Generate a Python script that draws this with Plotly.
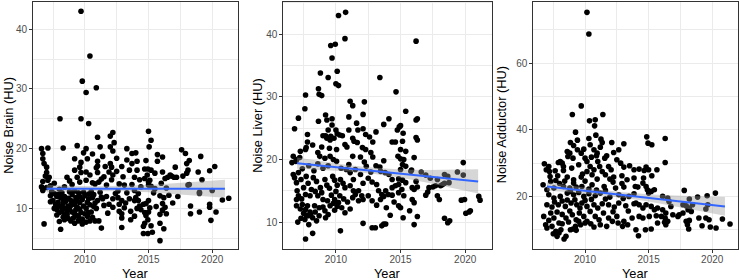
import plotly.graph_objects as go

# ---------------- data ----------------
brain_pts = [
 (2009.7,43.0),(2010.4,35.5),(2009.8,31.3),(2010.1,29.4),(2010.9,30.2),(2008.05,25.0),(2009.7,25.0),(2010.3,24.2),
 (2015.0,22.9),(2012.2,22.7),(2012.0,22.1),(2011.0,21.9),(2015.2,21.4),(2012.3,21.0),
 (2006.6,20.0),(2007.1,20.1),(2008.3,20.1),(2010.1,20.0),(2011.2,20.3),(2012.0,20.3),(2012.2,19.6),(2013.3,20.0),
 (2013.7,19.2),(2014.0,19.3),(2006.7,19.2),(2006.7,18.3),(2006.8,17.5),(2009.9,19.3),(2011.4,18.7),(2009.2,18.3),
 (2009.7,17.7),(2010.2,18.3),(2011.0,17.9),(2011.0,17.1),(2012.0,17.5),(2012.1,16.9),(2012.9,17.0),(2013.7,17.5),
 (2007.0,16.9),(2007.0,16.0),(2006.9,15.4),(2007.1,14.7),(2009.6,16.9),(2010.1,16.1),(2009.2,16.4),(2009.7,16.0),
 (2010.9,16.8),(2011.0,16.0),(2011.9,16.1),(2012.2,15.6),(2012.1,14.8),(2008.6,15.2),(2008.8,14.6),(2009.6,14.4),
 (2010.1,14.7),(2010.6,14.3),(2010.8,14.1),(2011.1,14.4),(2006.6,13.6),(2006.7,13.0),(2011.7,13.9),(2012.7,14.1),
 (2013.1,13.9),(2013.7,14.0),(2007.2,15.2),(2007.0,13.5),(2006.7,14.5),(2007.3,13.8),
 (2007.3,12.1),(2007.5,11.3),(2007.8,12.0),(2008.1,11.8),(2008.4,12.0),(2007.3,11.1),(2007.7,10.7),(2008.0,10.4),
 (2008.3,10.8),(2008.7,10.4),(2009.0,12.3),(2009.3,11.8),(2009.6,12.0),(2010.0,12.1),(2010.3,12.4),(2008.9,11.3),
 (2009.2,10.7),(2009.6,11.0),(2009.9,10.4),(2010.2,11.0),(2010.6,11.8),(2011.0,11.3),(2011.4,11.6),(2011.7,12.0),
 (2012.2,11.6),(2012.6,11.8),(2012.9,11.3),(2013.5,11.6),(2013.9,11.3),
 (2007.8,9.8),(2008.2,9.5),(2008.5,10.0),(2009.0,9.4),(2009.3,9.8),(2009.7,9.3),(2010.1,10.0),(2010.5,9.4),
 (2010.9,10.0),(2007.8,8.9),(2008.3,8.5),(2008.6,8.9),(2009.1,8.4),(2009.4,8.8),(2009.8,8.2),(2010.2,8.7),
 (2008.0,7.8),(2008.4,8.1),(2010.4,7.9),(2010.8,7.9),(2011.1,7.9),(2012.9,8.4),(2012.9,6.8),(2013.6,8.1),
 (2006.8,7.4),(2008.1,6.5),(2011.3,6.7),(2011.9,10.7),(2012.2,10.2),(2012.7,10.7),(2013.1,10.1),(2012.7,9.5),
 (2012.9,9.1),(2009.8,7.4),(2010.1,7.7),(2009.2,7.5),
 (2007.6,12.5),(2008.2,12.6),(2008.8,12.8),(2009.5,12.6),(2010.5,12.8),(2007.9,11.0),(2008.5,11.2),(2009.1,11.1),
 (2009.8,11.5),(2010.4,10.6),(2010.8,10.9),(2008.6,9.2),(2009.5,8.6),(2010.0,9.1),(2007.6,10.0),(2008.9,7.9),
 (2011.2,12.7),(2011.5,10.5),(2011.8,9.2),(2012.4,12.5),(2013.3,12.6),
 (2011.5,15.3),(2012.5,16.2),(2013.0,15.3),(2013.5,16.4),(2013.9,15.2),(2014.3,14.8),
 (2007.4,12.8),(2007.9,12.3),(2008.3,11.4),(2008.7,11.7),(2009.2,12.9),(2009.4,11.3),(2009.9,12.7),(2010.3,11.6),
 (2010.7,12.3),(2011.3,11.9),(2008.0,9.3),(2008.4,9.0),(2008.8,9.8),(2009.2,9.1),(2009.6,9.9),(2010.3,9.3),
 (2010.7,10.3),(2008.2,10.1),(2008.9,10.5),(2009.4,10.2),(2009.5,7.9),(2008.7,8.3),(2010.6,8.5),(2009.0,14.0),
 (2009.4,15.2),(2008.4,13.6),(2010.4,15.6),(2011.3,14.9),(2007.6,14.2),(2008.0,13.2),(2011.6,17.0),(2012.5,18.4),
 (2013.3,18.1),(2010.6,19.1),(2009.4,20.5),(2012.6,12.9),(2013.2,10.9),(2013.6,9.5),(2014.2,12.5),(2015.4,12.6),
 (2015.6,10.3),(2016.6,12.2),(2017.3,12.0),(2015.5,15.9),(2016.0,14.2),
 (2015.05,20.3),(2014.1,17.9),(2014.1,16.4),(2014.8,18.0),(2014.7,16.6),(2014.95,16.6),(2015.2,16.4),(2014.9,15.6),
 (2015.1,14.7),(2014.7,15.0),(2015.7,19.0),(2016.1,18.6),(2015.7,17.9),(2016.1,16.1),(2016.3,15.0),(2016.5,15.2),
 (2016.7,15.6),(2016.8,15.4),(2017.1,16.9),(2017.0,15.2),(2017.2,15.2),(2017.6,19.8),(2017.9,19.2),(2018.2,18.0),
 (2018.0,17.5),(2018.1,16.4),(2018.0,15.9),(2017.7,15.4),(2018.1,13.9),(2019.1,18.7),(2018.9,16.1),(2019.2,14.8),
 (2020.2,17.0),(2019.8,16.3),(2019.0,12.5),(2018.3,10.4),(2018.3,9.1),(2019.0,9.4),(2019.8,10.7),(2019.8,10.2),
 (2020.3,9.4),(2019.9,8.0),(2020.8,11.4),(2021.3,11.7),(2016.4,13.4),(2016.9,10.9),(2013.9,13.0),(2014.0,11.8),
 (2014.2,11.3),(2014.3,10.4),(2014.4,9.8),(2014.6,10.7),(2014.1,10.0),(2013.9,8.7),(2014.7,9.3),(2014.8,8.8),
 (2014.95,8.1),(2014.7,7.5),(2014.6,7.0),(2015.2,7.1),(2014.95,5.8),(2014.6,5.8),(2015.3,6.0),(2015.9,9.0),
 (2015.9,7.5),(2016.2,6.6),(2015.9,4.6),(2015.9,12.1),(2016.2,11.8),(2016.1,10.8),(2016.3,10.2),(2016.4,9.1),
 (2016.1,9.7),(2015.0,11.3),(2015.1,10.1),(2015.0,9.4),(2014.8,10.8),(2014.4,13.6),(2015.0,13.9),(2015.2,13.7),
 (2015.5,13.3),(2015.0,14.4),(2018.2,14.0),(2019.0,12.7),(2020.0,13.0),
]

liver_pts = [
 (2010.2,43.0),(2010.75,43.5),(2010.7,39.3),(2009.6,38.2),(2009.95,38.4),(2009.7,36.2),(2016.2,38.9),(2008.8,33.8),
 (2009.4,33.1),(2010.1,34.1),(2010.0,32.1),(2010.2,31.8),(2008.65,31.3),(2008.7,30.4),(2008.9,30.2),(2007.65,30.3),
 (2013.4,33.1),(2014.65,30.8),(2011.1,29.3),(2011.3,28.6),(2012.2,29.2),(2007.6,28.1),(2007.1,26.6),(2006.8,24.9),
 (2007.8,24.0),(2008.65,26.1),(2009.2,27.1),(2009.3,26.3),(2009.7,26.5),(2009.7,25.5),(2009.4,24.7),(2011.0,26.8),
 (2012.1,27.2),(2012.1,24.9),(2011.7,24.7),(2011.0,24.7),(2010.0,24.7),(2010.1,24.1),(2012.3,24.0),(2013.7,25.6),
 (2014.1,26.5),(2014.75,24.7),(2015.0,25.4),(2014.9,25.2),(2015.4,27.7),(2016.2,26.3),(2016.3,26.5),(2015.2,24.2),
 (2016.2,23.5),(2009.0,23.8),(2009.2,23.8),(2009.6,23.7),(2010.3,23.9),(2010.5,23.8),(2011.3,23.4),
 (2009.85,23.4),(2011.4,22.9),(2011.65,22.7),(2012.05,21.9),(2012.3,21.6),(2012.7,21.1),(2012.85,22.8),(2010.7,22.4),
 (2010.85,22.0),(2009.3,23.4),(2009.55,23.1),(2007.8,22.8),(2007.7,21.9),(2007.65,21.6),(2007.25,21.3),(2010.05,21.6),
 (2008.6,21.1),(2008.75,20.5),(2009.15,20.2),(2009.55,20.5),(2009.8,20.0),(2010.05,19.7),(2011.3,20.5),(2011.9,20.4),
 (2012.2,19.6),(2012.85,20.4),(2013.4,18.8),(2013.7,19.8),(2006.7,20.5),(2006.95,20.0),(2007.2,20.3),(2006.6,19.5),
 (2006.9,19.7),(2006.7,17.6),(2006.8,17.1),(2007.1,17.9),(2007.3,16.8),(2007.7,17.3),(2006.95,16.3),(2007.85,16.2),
 (2008.25,17.1),(2008.5,16.5),(2008.8,15.5),(2009.15,16.8),(2009.3,15.9),(2009.75,17.3),(2009.9,16.7),(2010.1,15.9),
 (2010.35,16.8),(2010.55,16.2),(2010.7,15.5),(2011.1,15.8),(2011.35,15.0),(2011.5,14.4),(2011.75,15.0),(2012.0,14.2),
 (2007.0,15.0),(2007.1,14.2),(2006.95,13.6),(2007.35,13.7),(2007.65,14.4),(2008.0,14.2),(2008.6,14.2),(2009.0,13.6),
 (2009.35,13.4),(2009.65,14.3),(2009.9,13.6),(2010.3,14.2),(2006.95,12.6),(2007.25,12.1),(2007.65,12.0),(2008.0,11.6),
 (2008.35,12.6),(2008.7,12.3),(2009.15,11.8),(2009.55,12.6),(2009.8,13.0),(2010.2,13.1),(2010.45,12.3),(2010.7,11.5),
 (2007.5,11.4),(2007.7,11.1),(2007.85,11.0),(2008.05,11.2),(2008.2,10.7),(2007.05,10.0),(2007.9,9.6),(2008.7,11.0),
 (2008.2,8.2),(2007.65,7.3),(2010.35,8.6),(2012.1,9.8),(2012.8,9.1),(2013.05,9.1),(2013.55,9.4),(2013.7,9.7),
 (2011.3,13.9),(2011.75,13.4),(2012.1,13.6),(2012.5,14.2),(2012.8,13.4),(2013.15,12.7),(2013.45,13.6),(2013.7,14.1),
 (2013.3,15.0),(2013.55,14.4),(2010.8,18.4),(2011.1,17.9),(2011.5,18.4),(2011.9,17.6),(2012.35,18.9),(2012.7,18.0),
 (2013.45,18.1),(2013.8,17.9),(2011.35,16.8),(2012.1,16.2),(2012.8,16.4),(2013.15,16.0),
 (2007.4,18.5),(2007.9,19.0),(2008.3,18.2),(2008.6,19.3),(2009.0,18.6),(2009.4,19.0),(2010.4,18.6),(2007.5,15.5),
 (2008.1,15.2),(2008.4,14.9),(2008.9,14.7),(2009.5,15.4),(2010.0,14.9),(2010.6,13.7),(2007.4,12.8),(2007.8,12.6),
 (2008.4,11.6),(2009.0,12.4),(2009.4,11.2),(2009.9,11.9),(2010.1,12.5),(2010.9,13.2),(2011.1,12.1),(2007.3,10.6),
 (2007.6,10.4),(2008.5,10.2),(2009.2,10.7),(2011.0,19.2),(2012.5,17.0),(2013.1,19.0),(2008.2,22.3),(2008.9,22.0),
 (2009.5,21.8),(2012.6,23.6),(2013.1,24.4),(2011.6,25.8),(2013.9,12.3),(2014.5,13.2),(2016.6,18.0),(2017.3,17.0),
 (2016.3,23.1),(2014.35,22.8),(2014.6,22.8),(2015.15,22.9),(2015.0,21.6),(2015.4,21.3),(2014.8,20.5),(2015.0,20.1),
 (2015.25,20.0),(2016.05,20.3),(2015.15,19.2),(2015.4,18.9),(2015.0,18.4),(2015.8,18.1),(2015.85,18.3),(2019.85,19.5),
 (2019.4,18.0),(2019.85,17.5),(2014.1,17.6),(2014.35,16.8),(2014.85,16.9),(2015.15,16.7),(2015.4,16.3),(2016.95,17.5),
 (2017.85,16.8),(2018.4,17.6),(2018.65,17.3),(2018.75,16.3),(2018.4,16.2),(2016.2,16.5),(2015.9,15.5),(2016.05,15.2),
 (2016.3,15.6),(2017.2,15.5),(2017.5,15.6),(2017.7,15.8),(2017.1,14.8),(2016.95,14.3),(2017.85,14.2),(2018.0,13.6),
 (2018.1,15.8),(2018.25,16.0),(2014.35,15.5),(2014.6,15.8),(2014.85,16.0),(2013.85,15.0),(2014.05,14.4),(2014.35,14.3),
 (2014.85,14.7),(2015.1,15.2),(2015.25,14.2),(2015.9,13.6),(2016.05,13.1),(2014.85,12.6),(2015.0,12.3),(2014.2,11.1),
 (2015.2,10.7),(2015.7,11.8),(2016.3,10.9),(2016.05,9.6),(2019.7,13.5),(2019.95,13.6),(2020.05,11.4),(2020.3,11.6),
 (2020.4,11.8),(2021.05,14.1),(2021.15,13.5),(2018.4,10.6),(2018.65,9.9),(2018.8,10.2),(2013.85,9.7),
]

adductor_pts = [
 (2010.15,75.3),(2010.3,68.8),(2009.7,47.2),(2009.0,44.6),(2011.4,44.6),(2010.35,42.7),(2010.8,43.0),(2010.75,41.2),
 (2009.25,39.3),(2010.85,38.4),(2014.85,37.9),(2016.3,37.4),(2010.3,37.4),(2011.25,37.2),(2009.4,36.9),
 (2008.85,36.2),(2009.1,35.3),(2008.8,33.0),(2010.4,35.5),(2010.7,34.0),(2010.95,33.0),(2011.35,36.2),(2011.2,34.8),
 (2012.1,36.2),(2013.05,35.8),(2012.65,34.0),(2012.25,33.2),(2008.6,33.5),(2008.65,32.0),(2009.05,31.5),(2009.4,34.0),
 (2009.7,33.0),(2009.9,34.2),(2010.0,31.5),(2010.15,30.5),(2010.9,32.2),(2011.55,31.5),(2011.7,32.2),
 (2006.8,29.8),(2007.15,29.0),(2007.9,30.2),(2008.05,30.5),(2008.2,30.0),(2006.95,28.0),(2008.95,28.5),(2009.5,29.5),
 (2010.4,29.0),(2010.7,28.0),(2011.15,29.0),(2011.35,27.5),(2011.85,29.0),(2012.05,28.0),(2012.8,30.0),(2013.05,28.8),
 (2013.5,29.2),(2013.85,28.0),(2007.2,27.5),(2007.65,27.7),(2008.3,27.8),(2007.25,26.0),(2007.85,26.2),(2008.6,25.8),
 (2009.1,25.0),(2009.7,25.8),(2010.15,27.5),(2010.55,26.5),(2010.95,25.2),(2011.6,26.5),(2011.95,25.2),(2012.25,25.8),
 (2012.9,26.2),(2013.3,25.0),(2013.85,25.5),(2006.7,23.5),(2007.0,22.0),(2007.55,22.5),(2008.3,23.0),(2009.1,24.0),
 (2009.75,23.0),(2010.55,23.5),(2011.5,23.0),(2012.4,22.5),(2013.05,22.8),(2013.95,23.0),
 (2007.15,20.5),(2007.55,19.5),(2008.05,20.0),(2008.6,21.0),(2008.85,21.5),(2009.1,20.5),(2009.5,21.2),(2009.9,20.0),
 (2010.3,20.8),(2010.8,20.2),(2011.2,21.0),(2011.95,19.8),(2012.65,20.5),(2013.45,20.0),(2013.85,20.8),
 (2007.0,17.5),(2007.4,16.8),(2007.9,17.5),(2008.45,17.0),(2008.9,18.0),(2009.35,17.5),(2009.75,18.0),(2010.15,17.0),
 (2010.7,17.5),(2011.35,17.8),(2011.85,17.5),(2012.65,18.0),(2013.2,17.2),(2013.85,17.8),
 (2006.75,14.0),(2007.15,12.8),(2007.55,13.5),(2007.95,12.0),(2008.5,13.5),(2009.0,14.5),(2009.55,15.0),(2009.9,14.0),
 (2010.15,12.5),(2010.8,14.0),(2011.45,15.0),(2011.85,13.5),(2012.5,14.0),(2013.05,12.5),(2013.7,13.5),
 (2006.9,11.5),(2007.0,10.5),(2007.4,11.0),(2007.7,9.5),(2007.95,9.0),(2008.1,10.0),(2008.5,8.0),(2008.85,10.0),
 (2009.25,11.0),(2009.65,11.5),(2010.0,12.0),(2010.45,11.8),(2011.2,11.5),(2012.15,12.5),(2012.95,11.0),(2013.35,11.5),
 (2007.5,8.8),(2007.8,8.0),(2008.35,7.2),(2009.05,10.2),(2009.3,9.8),
 (2007.3,24.5),(2007.7,24.8),(2008.0,23.9),(2008.4,24.6),(2008.8,22.5),(2009.3,22.8),(2010.0,24.6),(2010.3,22.2),
 (2010.9,21.9),(2011.6,21.8),(2012.2,24.3),(2012.9,23.9),(2007.6,18.3),(2008.2,18.6),(2008.6,18.9),(2009.2,19.0),
 (2009.6,16.5),(2010.0,18.8),(2010.5,19.1),(2011.0,16.5),(2011.6,19.2),(2012.3,16.8),(2013.0,19.4),(2007.3,15.0),
 (2007.8,15.3),(2008.2,14.6),(2008.8,15.6),(2009.3,13.0),(2010.4,15.5),(2011.1,13.0),(2012.2,15.4),(2013.4,15.6),
 (2008.2,11.8),(2008.7,12.3),(2009.5,12.5),(2010.7,10.8),(2011.7,11.0),(2012.6,12.0),(2009.8,26.7),(2010.5,31.8),
 (2012.5,31.0),(2008.3,29.0),(2011.0,30.5),
 (2014.95,36.0),(2015.25,35.5),(2016.3,30.2),(2014.25,28.2),(2014.65,27.8),(2014.8,28.8),(2015.0,28.0),(2015.25,26.2),
 (2015.65,28.0),(2014.6,25.5),(2014.55,24.0),(2014.15,22.8),(2014.8,23.0),(2014.9,22.0),(2015.0,21.0),(2015.2,21.5),
 (2015.45,22.0),(2017.8,21.8),(2019.6,20.2),(2020.25,21.0),(2018.2,19.2),(2018.85,19.8),(2019.65,17.5),(2019.5,16.2),
 (2016.1,20.0),(2016.5,19.5),(2016.6,18.5),(2017.7,17.5),(2017.95,17.2),(2018.2,16.5),(2018.45,17.5),(2014.0,18.0),
 (2014.25,17.5),(2014.55,16.5),(2014.8,17.5),(2015.2,17.0),(2015.45,16.0),(2015.7,16.5),(2016.1,16.0),(2016.35,15.0),
 (2016.75,17.0),(2016.9,14.5),(2017.3,14.0),(2017.4,14.5),(2017.7,15.0),(2018.1,16.0),(2018.35,15.5),(2014.25,14.0),
 (2014.55,13.5),(2015.05,14.0),(2015.6,14.2),(2016.0,14.0),(2016.3,13.5),(2016.5,12.5),(2017.95,12.5),(2018.2,12.8),
 (2018.05,11.5),(2018.95,13.5),(2019.5,13.5),(2019.75,13.0),(2020.8,13.2),(2014.0,10.0),(2014.2,8.2),(2014.75,10.0),
 (2015.2,10.2),(2015.7,12.0),(2016.25,12.2),(2016.35,11.5),(2018.15,10.2),(2019.2,11.2),(2019.85,10.8),(2020.3,10.5),
 (2021.4,11.7),
]

# fitted linear trend
fit_x = [2007.0, 2021.0]
brain_fit = [13.3, 13.3]
liver_fit = [19.4, 16.5]
adductor_fit = [23.0, 17.0]

# confidence band
band_x = [2007, 2009, 2011, 2013, 2015, 2017, 2019, 2021]
brain_upper = [13.95, 13.75, 13.7, 13.75, 13.9, 14.2, 14.5, 14.8]
brain_lower = [12.65, 12.85, 12.9, 12.85, 12.7, 12.4, 12.1, 11.8]
liver_upper = [20.3, 19.64, 19.07, 18.66, 18.39, 18.33, 18.36, 18.45]
liver_lower = [18.5, 18.34, 18.07, 17.66, 17.09, 16.33, 15.46, 14.55]
adductor_upper = [24.25, 23.09, 22.09, 21.28, 20.67, 20.31, 20.06, 19.8]
adductor_lower = [21.75, 21.19, 20.49, 19.58, 18.47, 17.11, 15.66, 14.2]

y_titles = ["Noise Brain (HU)", "Noise Liver (HU)", "Noise Adductor (HU)"]
x_title = "Year"
x_ticks = [2010, 2015, 2020]

# ---------------- figure ----------------
W, H = 739, 280
FONT = "Liberation Sans, Arial, sans-serif"

panels = [
    dict(pts=brain_pts, fit=brain_fit, up=brain_upper, lo=brain_lower,
         dom=[33.0, 238.3], yr=[3.2, 44.6], ydt=10, ymin=5, tx=8.5),
    dict(pts=liver_pts, fit=liver_fit, up=liver_upper, lo=liver_lower,
         dom=[283.3, 491.7], yr=[5.7, 45.2], ydt=10, ymin=5, tx=257.5),
    dict(pts=adductor_pts, fit=adductor_fit, up=adductor_upper, lo=adductor_lower,
         dom=[533.3, 738.3], yr=[4.2, 78.5], ydt=20, ymin=10, tx=501.0),
]

fig = go.Figure()
ydom = [1 - 249 / H, 1 - 1.7 / H]
grid = "#EBEBEB"
annotations = []

for i, p in enumerate(panels):
    sfx = "" if i == 0 else str(i + 1)
    xa, ya = "x" + sfx, "y" + sfx
    xs = [a for a, b in p["pts"]]
    ys = [b for a, b in p["pts"]]
    fig.add_trace(go.Scatter(x=xs, y=ys, mode="markers", xaxis=xa, yaxis=ya,
                             marker=dict(color="black", size=5.6, line=dict(width=0)),
                             showlegend=False, hoverinfo="skip"))
    fig.add_trace(go.Scatter(x=band_x + band_x[::-1], y=p["up"] + p["lo"][::-1],
                             mode="lines", fill="toself", fillcolor="rgba(153,153,153,0.4)",
                             line=dict(width=0), xaxis=xa, yaxis=ya, showlegend=False,
                             hoverinfo="skip"))
    fig.add_trace(go.Scatter(x=fit_x, y=p["fit"], mode="lines", xaxis=xa, yaxis=ya,
                             line=dict(color="#3366FF", width=2), showlegend=False,
                             hoverinfo="skip"))
    axcommon = dict(showline=True, mirror=True, linecolor="#333333", linewidth=1,
                    ticks="outside", ticklen=3, tickcolor="#333333", tickwidth=1,
                    tickfont=dict(family=FONT, size=10, color="#4D4D4D"),
                    showgrid=True, gridcolor=grid, gridwidth=1, zeroline=False,
                    automargin=False)
    fig.layout["xaxis" + sfx] = dict(
        domain=[p["dom"][0] / W, p["dom"][1] / W], range=[2005.93, 2022.05],
        tickvals=x_ticks, anchor=ya, ticklabelstandoff=-2,
        minor=dict(dtick=2.5, tick0=2000, showgrid=True, gridcolor=grid, gridwidth=0.6, ticks=""),
        **axcommon)
    fig.layout["yaxis" + sfx] = dict(
        domain=ydom, range=p["yr"], dtick=p["ydt"], tick0=0, anchor=xa,
        minor=dict(dtick=p["ymin"], tick0=0, showgrid=True, gridcolor=grid, gridwidth=0.6, ticks=""),
        **axcommon)
    annotations.append(dict(text=y_titles[i], x=p["tx"] / W, y=1 - 125.3 / H,
                            xref="paper", yref="paper", xanchor="center", yanchor="middle",
                            textangle=-90, showarrow=False,
                            font=dict(family=FONT, size=12.8, color="black")))
    annotations.append(dict(text=x_title, x=(p["dom"][0] + p["dom"][1]) / 2 / W,
                            y=1 - 273.5 / H, xref="paper", yref="paper",
                            xanchor="center", yanchor="middle", showarrow=False,
                            font=dict(family=FONT, size=12.8, color="black")))

fig.update_layout(width=W, height=H, margin=dict(l=0, r=0, t=0, b=0),
                  paper_bgcolor="white", plot_bgcolor="white",
                  annotations=annotations, showlegend=False)

fig.write_html("out.html",
               config={"displayModeBar": False},
               post_script="document.body.style.margin='0px';"
                           "document.body.style.padding='0px';"
                           "document.body.style.overflow='hidden';")
